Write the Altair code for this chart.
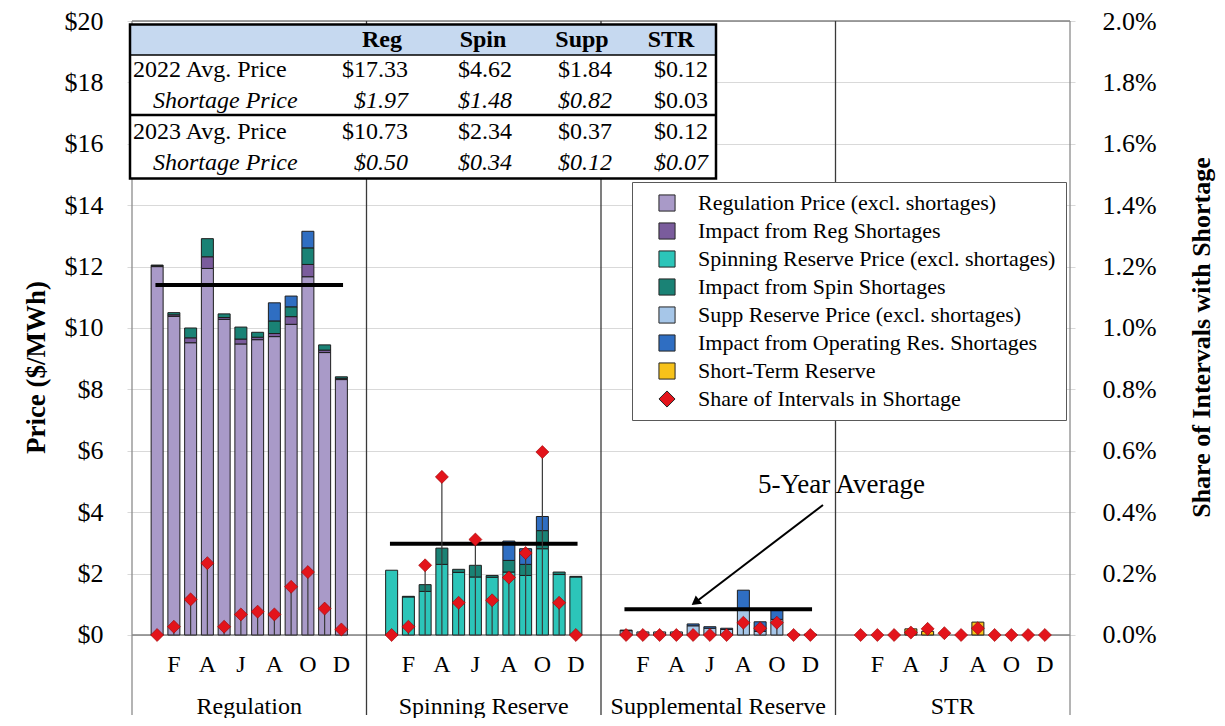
import altair as alt
import pandas as pd

# ---------------- data ----------------
panels = ["Regulation", "Spinning Reserve", "Supplemental Reserve", "STR"]
month_ticks = ["F", "A", "J", "A", "O", "D"]          # labels shown under months 2,4,...,12

series_names = [
    "Regulation Price (excl. shortages)",
    "Impact from Reg Shortages",
    "Spinning Reserve Price (excl. shortages)",
    "Impact from Spin Shortages",
    "Supp Reserve Price (excl. shortages)",
    "Impact from Operating Res. Shortages",
    "Short-Term Reserve",
    "Share of Intervals in Shortage",
]
series_colors = ["#a99ac8", "#7a5c9c", "#2cc5b9", "#1a8275", "#a6c6e8", "#2f6ec2", "#f7c21a", "#e3141b"]
series_shapes = ["square", "square", "square", "square", "square", "square", "square", "diamond"]

# Regulation panel ($/MWh)
reg_price      = [12.00, 10.38, 9.52, 11.94, 10.28, 9.48, 9.62, 9.72, 10.12, 11.67, 9.20, 8.32]
reg_reg_short  = [0.03, 0.05, 0.16, 0.38, 0.06, 0.16, 0.08, 0.10, 0.25, 0.40, 0.08, 0.04]
reg_spin_short = [0.02, 0.07, 0.32, 0.59, 0.12, 0.39, 0.16, 0.41, 0.32, 0.54, 0.17, 0.05]
reg_or_short   = [0, 0, 0, 0, 0, 0, 0, 0.59, 0.35, 0.54, 0, 0]
# Spinning reserve panel
spin_price      = [2.11, 1.24, 1.42, 2.30, 2.04, 1.89, 1.88, 2.05, 1.94, 2.81, 1.97, 1.89]
spin_spin_short = [0, 0.02, 0.22, 0.53, 0.10, 0.38, 0.06, 0.38, 0.36, 0.59, 0.08, 0.02]
spin_or_short   = [0, 0, 0, 0, 0, 0, 0, 0.63, 0.51, 0.46, 0, 0]
# Supplemental reserve panel
supp_price    = [0.14, 0.10, 0.10, 0.10, 0.30, 0.22, 0.18, 0.81, 0.12, 0.51, 0.03, 0.03]
supp_or_short = [0.02, 0, 0, 0, 0.06, 0.05, 0.04, 0.65, 0.31, 0.30, 0, 0]
# STR panel
str_price = [0, 0, 0, 0.20, 0.12, 0, 0, 0.42, 0, 0, 0, 0]

# Share of intervals in shortage (fraction)
reg_share  = [0.0, 0.00027, 0.00116, 0.00234, 0.00027, 0.00067, 0.00076, 0.00067, 0.00157, 0.00205, 0.00086, 0.00018]
spin_share = [0.0, 0.00027, 0.00227, 0.00515, 0.00105, 0.00311, 0.00113, 0.00187, 0.00267, 0.00596, 0.00105, 0.0]
supp_share = [0, 0, 0, 0, 0, 0, 0, 0.00040, 0.00022, 0.00040, 0, 0]
str_share  = [0, 0, 0, 0.00008, 0.00020, 0.00006, 0, 0.00022, 0, 0, 0, 0]

five_year_avg = [11.40, 2.97, 0.84]

# Summary table
table_header = ["Reg", "Spin", "Supp", "STR"]
table_rows = ["2022 Avg. Price", "Shortage Price", "2023 Avg. Price", "Shortage Price"]
avg_2022   = ["$17.33", "$4.62", "$1.84", "$0.12"]
short_2022 = ["$1.97", "$1.48", "$0.82", "$0.03"]
avg_2023   = ["$10.73", "$2.34", "$0.37", "$0.12"]
short_2023 = ["$0.50", "$0.34", "$0.12", "$0.07"]
annotation_text = "5-Year Average"

# ---------------- tables for the library ----------------
PW = 14  # x units per panel
panel_stacks = [
    [(0, reg_price), (1, reg_reg_short), (3, reg_spin_short), (5, reg_or_short)],
    [(2, spin_price), (3, spin_spin_short), (5, spin_or_short)],
    [(4, supp_price), (5, supp_or_short)],
    [(6, str_price)],
]
bar_rows = []
for p, stack in enumerate(panel_stacks):
    for m in range(12):
        base = 0.0
        for k, vals in stack:
            v = vals[m]
            if v > 0:
                bar_rows.append({"pos": PW * p + m + 1.5, "series": series_names[k],
                                 "y0": base, "y1": base + v})
            base += v
bars_df = pd.DataFrame(bar_rows)

share_rows = []
for p, vals in enumerate([reg_share, spin_share, supp_share, str_share]):
    for m, v in enumerate(vals):
        share_rows.append({"pos": PW * p + m + 1.5, "share": v, "series": series_names[7]})
share_df = pd.DataFrame(share_rows)
drops_df = share_df[share_df["share"] > 0]

avg_df = pd.DataFrame({"x0": [PW * p + 1.4 for p in range(3)],
                       "x1": [PW * p + 12.6 for p in range(3)],
                       "avg": five_year_avg})
month_df = pd.DataFrame([{"pos": PW * p + (2 * i + 1) + 1.5, "t": t}
                         for p in range(4) for i, t in enumerate(month_ticks)])
panel_df = pd.DataFrame({"pos": [PW * p + 7 for p in range(4)], "t": panels})

YMIN = -2.606
price_scale = alt.Scale(domain=[YMIN, 20], nice=False, zero=False)
share_scale = alt.Scale(domain=[YMIN / 1000, 0.02], nice=False, zero=False)
XS = alt.Scale(domain=[0, 4 * PW], nice=False, zero=False)
FONT = "Liberation Serif"

left_axis = alt.Axis(values=list(range(0, 21, 2)), labelExpr="'$' + datum.value",
                     grid=True, gridColor="#d9d9d9", domain=False, ticks=False,
                     labelFont=FONT, labelFontSize=26, labelColor="black", labelPadding=24,
                     title="Price ($/MWh)", titleFont=FONT, titleFontSize=27,
                     titleFontWeight="bold", titleColor="black", titleAngle=270,
                     titleX=-91, titleY=346, titleAlign="center", titleBaseline="middle")
right_axis = alt.Axis(orient="right", values=[i / 500 for i in range(11)], format=".1%",
                      grid=False, domain=False, ticks=False,
                      labelFont=FONT, labelFontSize=26, labelColor="black", labelPadding=27,
                      title="Share of Intervals with Shortage", titleFont=FONT, titleFontSize=26,
                      titleFontWeight="bold", titleColor="black", titleAngle=270,
                      titleX=126, titleY=316, titleAlign="center", titleBaseline="middle")

legend_def = alt.Legend(title=None, orient="none", legendX=505, legendY=161, direction="vertical",
                        fillColor="white", strokeColor="#595959", padding=10, rowPadding=6,
                        symbolSize=260, symbolStrokeColor="#262626", symbolStrokeWidth=1,
                        symbolOffset=14, labelOffset=20, labelFont=FONT, labelFontSize=22,
                        labelColor="black", labelLimit=600)
color_enc = alt.Color("series:N", scale=alt.Scale(domain=series_names, range=series_colors),
                      legend=legend_def)
shape_enc = alt.Shape("series:N", scale=alt.Scale(domain=series_names, range=series_shapes),
                      legend=legend_def)

X = alt.X("pos:Q", scale=XS, axis=None)

# frame
hline_df = pd.DataFrame({"x0": [0, 0], "x1": [4 * PW, 4 * PW], "y": [20, 0]})
top_zero = alt.Chart(hline_df).mark_rule(color="#808080", strokeWidth=1.3).encode(
    x=alt.X("x0:Q", scale=XS, axis=None), x2="x1:Q",
    y=alt.Y("y:Q", scale=price_scale, axis=left_axis))
vb_df = pd.DataFrame({"x": [0, 4 * PW], "y0": [YMIN, YMIN], "y1": [20, 20]})
borders = alt.Chart(vb_df).mark_rule(color="#8c8c8c", strokeWidth=1.3).encode(
    x=alt.X("x:Q", scale=XS, axis=None), y=alt.Y("y0:Q", scale=price_scale, axis=left_axis), y2="y1:Q")
sep_df = pd.DataFrame({"x": [PW, 2 * PW, 3 * PW], "y0": [YMIN] * 3, "y1": [20] * 3})
seps = alt.Chart(sep_df).mark_rule(color="#3a3a3a", strokeWidth=1.3).encode(
    x=alt.X("x:Q", scale=XS, axis=None), y=alt.Y("y0:Q", scale=price_scale, axis=left_axis), y2="y1:Q")

bars = alt.Chart(bars_df).mark_bar(size=12, stroke="#1e1e1e", strokeWidth=1).encode(
    x=X, y=alt.Y("y1:Q", scale=price_scale, axis=left_axis), y2="y0:Q", color=color_enc)

avg_lines = alt.Chart(avg_df).mark_rule(color="black", strokeWidth=4).encode(
    x=alt.X("x0:Q", scale=XS, axis=None), x2="x1:Q",
    y=alt.Y("avg:Q", scale=price_scale, axis=left_axis))

month_text = alt.Chart(month_df).mark_text(font=FONT, fontSize=24, color="black", baseline="middle").encode(
    x=X, y=alt.value(644), text="t:N")
panel_text = alt.Chart(panel_df).mark_text(font=FONT, fontSize=24, color="black", baseline="middle").encode(
    x=X, y=alt.value(686), text="t:N")

# ---- table (pixel positions relative to plot origin) ----
PX = alt.X("px:Q", scale=None, axis=None)
PY = alt.Y("py:Q", scale=None, axis=None)
RX0 = alt.X("x0:Q", scale=None, axis=None)
RY0 = alt.Y("y0:Q", scale=None, axis=None)
box_df = pd.DataFrame([{"x0": 3, "x1": 589, "y0": 3.5, "y1": 157.5}])
tbl_bg = alt.Chart(box_df).mark_rect(fill="white").encode(x=RX0, x2="x1:Q", y=RY0, y2="y1:Q")
hdr_df = pd.DataFrame([{"x0": 3, "x1": 589, "y0": 3.5, "y1": 34}])
tbl_hdr = alt.Chart(hdr_df).mark_rect(fill="#c6d9f0").encode(x=RX0, x2="x1:Q", y=RY0, y2="y1:Q")
tl_df = pd.DataFrame({"x0": [3, 3], "x1": [589, 589], "y0": [34, 94]})
tbl_l1 = alt.Chart(tl_df.iloc[[0]]).mark_rule(color="black", strokeWidth=1.5).encode(x=RX0, x2="x1:Q", y=RY0)
tbl_l2 = alt.Chart(tl_df.iloc[[1]]).mark_rule(color="black", strokeWidth=2.5).encode(x=RX0, x2="x1:Q", y=RY0)
tbl_border = alt.Chart(box_df).mark_rect(fillOpacity=0, stroke="black", strokeWidth=2.5).encode(
    x=RX0, x2="x1:Q", y=RY0, y2="y1:Q")

row_y = [49, 80, 110.7, 142]
hdr_x = [255, 356, 455, 544]
val_x = [281, 385, 485, 581]
hdr_txt_df = pd.DataFrame({"px": hdr_x, "py": [19] * 4, "t": table_header})
lab_norm_df = pd.DataFrame({"px": [6, 6], "py": [row_y[0], row_y[2]], "t": [table_rows[0], table_rows[2]]})
lab_ital_df = pd.DataFrame({"px": [26, 26], "py": [row_y[1], row_y[3]], "t": [table_rows[1], table_rows[3]]})
norm_vals, ital_vals = [], []
for r, vals in enumerate([avg_2022, short_2022, avg_2023, short_2023]):
    for c, v in enumerate(vals):
        italic = (r in (1, 3)) and not (r == 1 and c == 3)
        (ital_vals if italic else norm_vals).append({"px": val_x[c], "py": row_y[r], "t": v})
val_norm_df = pd.DataFrame(norm_vals)
val_ital_df = pd.DataFrame(ital_vals)

def txt(df, **kw):
    return alt.Chart(df).mark_text(font=FONT, fontSize=24, color="black", baseline="middle", **kw).encode(
        x=PX, y=PY, text="t:N")

t_hdr = txt(hdr_txt_df, align="center", fontWeight="bold")
t_lab1 = txt(lab_norm_df, align="left")
t_lab2 = txt(lab_ital_df, align="left", fontStyle="italic")
t_val1 = txt(val_norm_df, align="right")
t_val2 = txt(val_ital_df, align="right", fontStyle="italic")

# ---- 5-year average annotation ----
ann_df = pd.DataFrame({"px": [631], "py": [464], "t": [annotation_text]})
ann_text = alt.Chart(ann_df).mark_text(font=FONT, fontSize=27, color="black", align="left",
                                       baseline="middle").encode(x=PX, y=PY, text="t:N")
arr_df = pd.DataFrame({"x0": [696], "y0": [484], "x1": [569.5], "y1": [580.5]})
arrow = alt.Chart(arr_df).mark_rule(color="black", strokeWidth=2).encode(
    x=RX0, y=RY0, x2="x1:Q", y2="y1:Q")
head_df = pd.DataFrame({"px": [569.5], "py": [580.4]})
arrow_head = alt.Chart(head_df).mark_point(shape="triangle", filled=True, size=110, angle=232.8,
                                           color="black", opacity=1).encode(x=PX, y=PY)

# ---- share layer ----
drops = alt.Chart(drops_df).mark_rule(color="#3a3a3a", strokeWidth=1.2).encode(
    x=X, y=alt.Y("share:Q", scale=share_scale, axis=right_axis), y2=alt.datum(0))
diamonds = alt.Chart(share_df).mark_point(filled=True, size=170, opacity=1, stroke="#9b0000",
                                          strokeWidth=0.6).encode(
    x=X, y=alt.Y("share:Q", scale=share_scale, axis=right_axis), color=color_enc, shape=shape_enc)

price_layer = alt.layer(top_zero, bars, borders, seps, avg_lines, month_text, panel_text,
                        tbl_bg, tbl_hdr, tbl_l1, tbl_l2, tbl_border,
                        t_hdr, t_lab1, t_lab2, t_val1, t_val2, ann_text, arrow, arrow_head)
share_layer = alt.layer(drops, diamonds)

chart = alt.layer(price_layer, share_layer).resolve_scale(y="independent").properties(
    width=948, height=694,
    autosize=alt.AutoSizeParams(type="none"),
    padding={"left": 119, "top": 13, "right": 142, "bottom": 3},
    background="white",
).configure_view(strokeWidth=0)

chart.save("out.html", embed_options={"renderer": "svg", "actions": False})
